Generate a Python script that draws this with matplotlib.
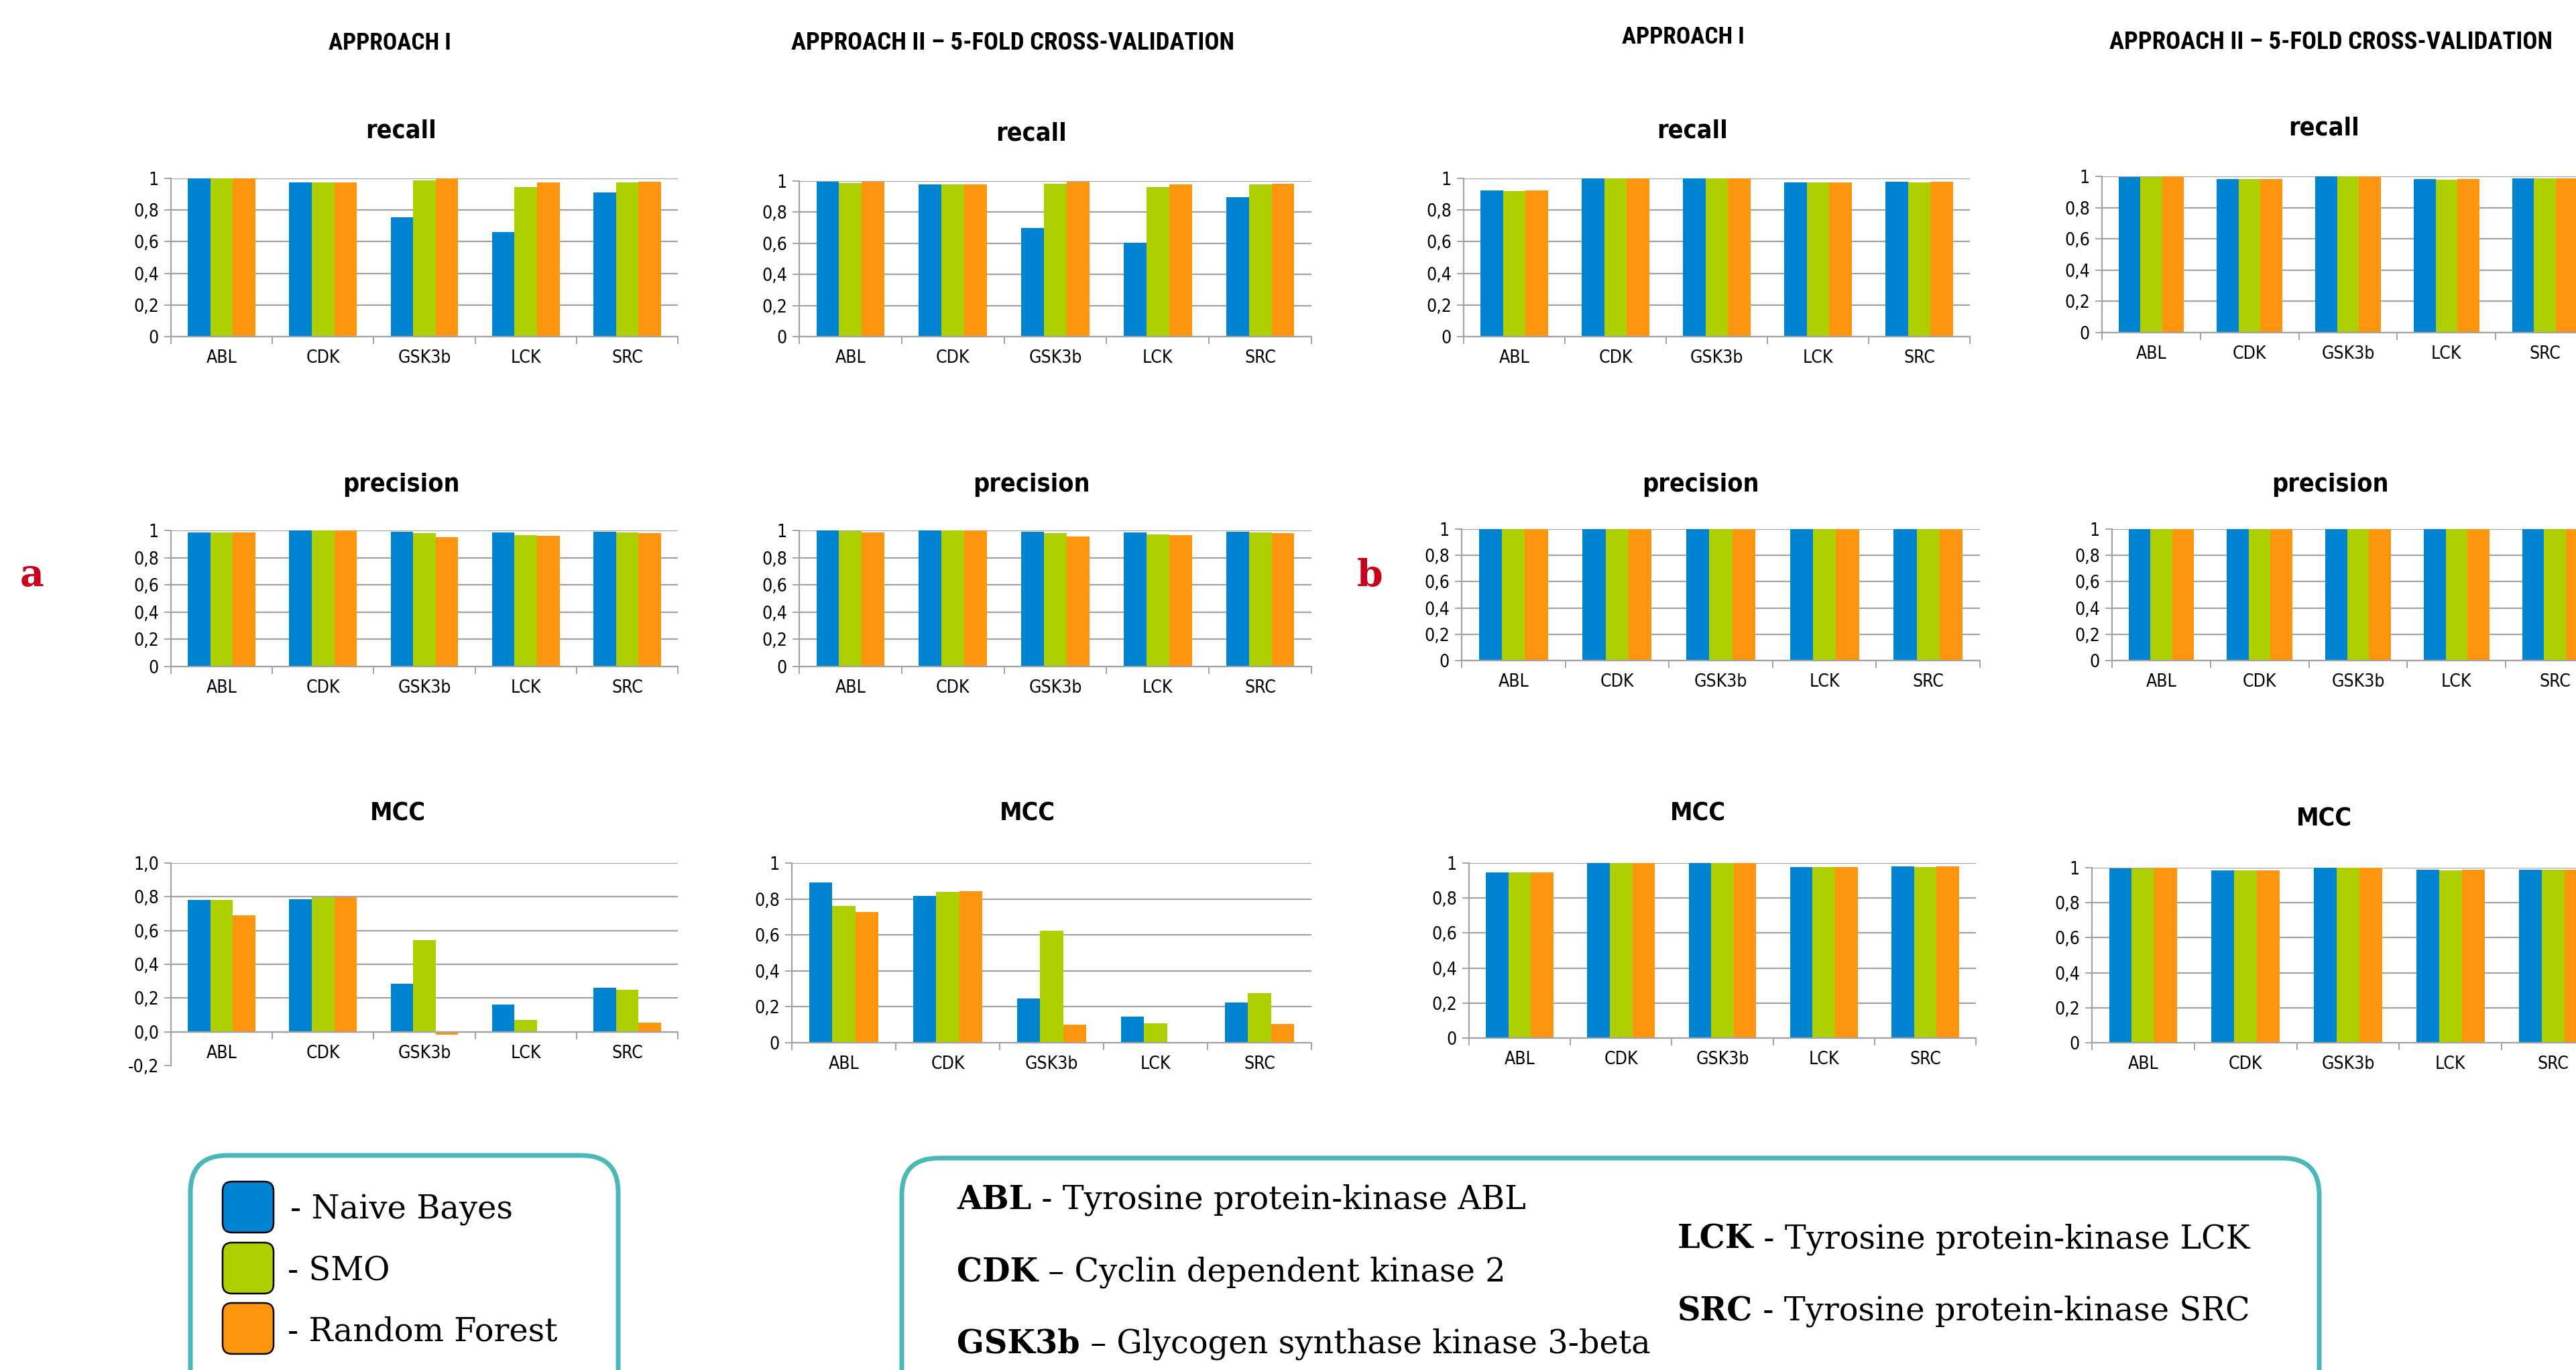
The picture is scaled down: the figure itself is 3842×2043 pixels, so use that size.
import numpy as np
import matplotlib
matplotlib.use('Agg')
import matplotlib.pyplot as plt
from matplotlib import font_manager
from matplotlib.patches import FancyBboxPatch
from matplotlib.ticker import FuncFormatter

W, H = 3842, 2043

kinases = ['ABL', 'CDK', 'GSK3b', 'LCK', 'SRC']
classifiers = ['Naive Bayes', 'SMO', 'Random Forest']
colors = ['#0084d1', '#aecf00', '#ff950e']

# rows: Naive Bayes, SMO, Random Forest ; columns follow kinases
# set a
recall_a_app1 = [[1.0, 0.973, 0.756, 0.663, 0.909],
                 [1.0, 0.973, 0.986, 0.947, 0.973],
                 [1.0, 0.973, 1.0, 0.973, 0.977]]
recall_a_app2 = [[0.995, 0.977, 0.700, 0.605, 0.895],
                 [0.989, 0.977, 0.981, 0.963, 0.977],
                 [0.995, 0.977, 0.995, 0.977, 0.981]]
precision_a_app1 = [[0.987, 1.0, 0.992, 0.987, 0.992],
                    [0.987, 1.0, 0.982, 0.967, 0.987],
                    [0.987, 1.0, 0.952, 0.962, 0.982]]
precision_a_app2 = [[1.0, 1.0, 0.992, 0.987, 0.992],
                    [0.993, 1.0, 0.982, 0.972, 0.987],
                    [0.987, 1.0, 0.957, 0.967, 0.982]]
mcc_a_app1 = [[0.782, 0.786, 0.284, 0.162, 0.261],
              [0.782, 0.797, 0.545, 0.071, 0.249],
              [0.691, 0.797, -0.016, 0.004, 0.055]]
mcc_a_app2 = [[0.891, 0.817, 0.247, 0.147, 0.225],
              [0.762, 0.840, 0.625, 0.110, 0.277],
              [0.728, 0.843, 0.102, 0.004, 0.106]]

# set b
recall_b_app1 = [[0.923, 1.0, 1.0, 0.973, 0.977],
                 [0.918, 1.0, 1.0, 0.973, 0.973],
                 [0.923, 1.0, 1.0, 0.973, 0.977]]
recall_b_app2 = [[0.995, 0.981, 1.0, 0.981, 0.986],
                 [0.995, 0.981, 1.0, 0.977, 0.986],
                 [1.0, 0.981, 1.0, 0.981, 0.986]]
precision_b_app1 = [[1.0, 1.0, 1.0, 1.0, 1.0],
                    [1.0, 1.0, 1.0, 1.0, 1.0],
                    [1.0, 1.0, 1.0, 1.0, 1.0]]
precision_b_app2 = [[1.0, 1.0, 1.0, 1.0, 1.0],
                    [1.0, 1.0, 1.0, 1.0, 1.0],
                    [1.0, 1.0, 1.0, 1.0, 1.0]]
mcc_b_app1 = [[0.948, 1.0, 1.0, 0.978, 0.982],
              [0.948, 1.0, 1.0, 0.978, 0.978],
              [0.948, 1.0, 1.0, 0.978, 0.982]]
mcc_b_app2 = [[0.997, 0.985, 1.0, 0.989, 0.989],
              [0.997, 0.985, 1.0, 0.985, 0.989],
              [1.0, 0.985, 1.0, 0.989, 0.989]]

approach_titles = ['APPROACH I', 'APPROACH II \u2013 5-FOLD CROSS-VALIDATION']
kinase_names = [('ABL', ' - Tyrosine protein-kinase ABL'),
                ('CDK', ' \u2013 Cyclin dependent kinase 2'),
                ('GSK3b', ' \u2013 Glycogen synthase kinase 3-beta'),
                ('LCK', ' - Tyrosine protein-kinase LCK'),
                ('SRC', ' - Tyrosine protein-kinase SRC')]

GRID = '#a3a3a3'
TEAL = '#4ab8b8'
RED = '#c8001e'
BAR_W = 0.222
LEG_FS = 34.5

installed = {f.name for f in font_manager.fontManager.ttflist}
condensed = any(f.name == 'DejaVu Sans' and f.stretch == 'condensed'
                for f in font_manager.fontManager.ttflist)


def pick_font(candidates):
    for name in candidates:
        if name in installed:
            return name
    return 'DejaVu Sans'


HEAD_FONT = pick_font(['Liberation Sans Narrow', 'Roboto Condensed', 'Open Sans Condensed',
                       'Roboto', 'DejaVu Sans'])
HEAD_WEIGHT = 'black' if HEAD_FONT == 'Roboto' else 'bold'

plt.rcParams['font.family'] = ['DejaVu Sans']
if condensed:
    plt.rcParams['font.stretch'] = 'condensed'
    TICK_FS, TITLE_FS = 19, 27
else:
    TICK_FS, TITLE_FS = 17, 24


def fmt_tick(v, one_decimal):
    v = round(v, 1)
    if not one_decimal and abs(v - round(v)) < 1e-9:
        return '%d' % round(v)
    return ('%.1f' % v).replace('.', ',').replace('-0,0', '0,0')


def panel(fig, vals, rect, ymin=0.0, one_decimal=False):
    x0, x1, y_top, y_bot = rect
    ax = fig.add_axes([x0 / W, 1 - y_bot / H, (x1 - x0) / W, (y_bot - y_top) / H])
    x = np.arange(len(kinases))
    for k, (v, c) in enumerate(zip(vals, colors)):
        ax.bar(x + (k - 1) * BAR_W, v, BAR_W, color=c, linewidth=0, zorder=2)
    ax.set_xlim(-0.5, len(kinases) - 0.5)
    ax.set_ylim(ymin, 1.0)
    yt = np.round(np.arange(ymin, 1.0001, 0.2), 1)
    ax.set_yticks(yt)
    ax.yaxis.set_major_formatter(FuncFormatter(lambda v, p: fmt_tick(v, one_decimal)))
    ax.set_xticks(np.arange(-0.5, len(kinases)), labels=[])
    ax.set_xticks(x, labels=kinases, minor=True)
    ax.tick_params(axis='x', which='major', length=8, width=1.4, color=GRID, direction='out')
    ax.tick_params(axis='x', which='minor', length=0, pad=14, labelsize=TICK_FS)
    ax.tick_params(axis='y', length=7, width=1.4, color=GRID, pad=6, labelsize=TICK_FS)
    ax.yaxis.grid(True, color=GRID, linewidth=1.6)
    ax.set_axisbelow(True)
    for s in ('top', 'right'):
        ax.spines[s].set_visible(False)
    for s in ('left', 'bottom'):
        ax.spines[s].set_color(GRID)
        ax.spines[s].set_linewidth(1.6)
    ax.spines['bottom'].set_position(('data', 0))
    ax.spines['bottom'].set_zorder(3)
    # no gridline below zero
    for line, v in zip(ax.get_ygridlines(), yt):
        if v < 0:
            line.set_visible(False)
    return ax


fig = plt.figure(figsize=(W / 100, H / 100), dpi=100)

# (values, metric, axes rect in px: x0, x1, y at top, y at bottom, title x/baseline, ymin, one decimal)
panels = [
    (recall_a_app1, 'recall', (255, 1011, 266, 502), (598, 205), 0.0, False),
    (recall_a_app2, 'recall', (1192, 1956, 270, 502), (1538, 210), 0.0, False),
    (recall_b_app1, 'recall', (2183, 2938, 266, 502), (2524, 205), 0.0, False),
    (recall_b_app2, 'recall', (3135, 3869, 263, 496), (3466, 201), 0.0, False),
    (precision_a_app1, 'precision', (255, 1011, 791, 994), (598, 733), 0.0, False),
    (precision_a_app2, 'precision', (1192, 1956, 791, 994), (1538, 733), 0.0, False),
    (precision_b_app1, 'precision', (2180, 2953, 789, 985), (2536, 733), 0.0, False),
    (precision_b_app2, 'precision', (3150, 3884, 789, 985), (3475, 733), 0.0, False),
    (mcc_a_app1, 'MCC', (255, 1011, 1287, 1589), (593, 1224), -0.2, True),
    (mcc_a_app2, 'MCC', (1181, 1956, 1287, 1555), (1532, 1224), 0.0, False),
    (mcc_b_app1, 'MCC', (2191, 2947, 1287, 1548), (2532, 1224), 0.0, False),
    (mcc_b_app2, 'MCC', (3120, 3884, 1294, 1555), (3466, 1232), 0.0, False),
]

for vals, metric, rect, tpos, ymin, one_dec in panels:
    panel(fig, vals, rect, ymin, one_dec)

# overlay in pixel units for titles, labels and legend boxes
ov = fig.add_axes([0, 0, 1, 1])
ov.set_xlim(0, W)
ov.set_ylim(H, 0)
ov.axis('off')

for vals, metric, rect, tpos, ymin, one_dec in panels:
    ov.text(tpos[0], tpos[1], metric, ha='center', va='baseline',
            fontsize=TITLE_FS, fontweight='bold')

headers = []
for (hx, hy), s, width in [((581, 74), approach_titles[0], 182),
                           ((1511, 74), approach_titles[1], 660),
                           ((2510, 65), approach_titles[0], 182),
                           ((3476, 73), approach_titles[1], 660)]:
    t = ov.text(hx, hy, s, ha='center', va='baseline', fontsize=20,
                family=HEAD_FONT, fontweight=HEAD_WEIGHT, fontstretch='normal')
    headers.append((t, width))

# scale the headers to their column width
fig.canvas.draw()
renderer = fig.canvas.get_renderer()
for t, width in headers:
    bb = t.get_window_extent(renderer)
    t.set_fontsize(t.get_fontsize() * width / bb.width)

ov.text(30, 874, 'a', color=RED, fontsize=40, fontweight='bold',
        family='DejaVu Serif', fontstretch='normal', va='baseline')
ov.text(2024, 875, 'b', color=RED, fontsize=40, fontweight='bold',
        family='DejaVu Serif', fontstretch='normal', va='baseline')

# classifier legend
ov.add_patch(FancyBboxPatch((284, 1723), 922 - 284, 400, boxstyle='round,pad=0,rounding_size=55',
                            fc='white', ec=TEAL, lw=5))
for name, c, y, tx, base in zip(classifiers, colors, [1762, 1853, 1943],
                                [433, 429, 429], [1817, 1910, 2000]):
    ov.add_patch(FancyBboxPatch((332, y), 76, 76, boxstyle='round,pad=0,rounding_size=14',
                                fc=c, ec='black', lw=1.8))
    ov.text(tx, base, '- ' + name, family='DejaVu Serif', fontstretch='normal',
            fontsize=LEG_FS, va='baseline', ha='left')

# kinase legend
ov.add_patch(FancyBboxPatch((1345, 1727), 3459 - 1345, 400, boxstyle='round,pad=0,rounding_size=55',
                            fc='white', ec=TEAL, lw=5))
for (abbr, desc), (kx, ky) in zip(kinase_names, [(1427, 1803), (1427, 1911), (1427, 2018),
                                                 (2502, 1862), (2502, 1969)]):
    b = ov.text(kx, ky, abbr, family='DejaVu Serif', fontstretch='normal', fontsize=LEG_FS,
                fontweight='bold', va='baseline', ha='left')
    ov.annotate(desc, xy=(1, 0), xycoords=b, va='bottom', ha='left',
                family='DejaVu Serif', fontstretch='normal', fontsize=LEG_FS)

fig.savefig('out.png', dpi=100, facecolor='white')
